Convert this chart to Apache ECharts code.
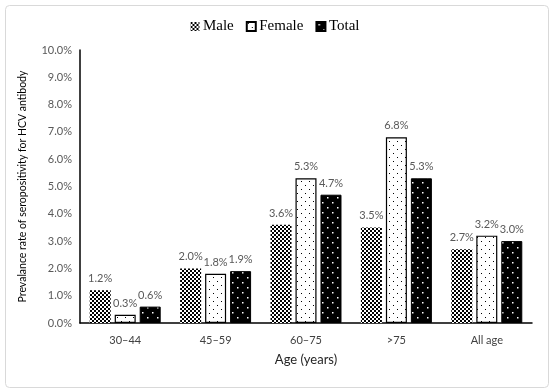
<!DOCTYPE html>
<html>
<head>
<meta charset="utf-8">
<script src="https://cdn.jsdelivr.net/npm/echarts@6/dist/echarts.min.js"></script>
<style>
html,body{margin:0;padding:0;background:#fff;}
#c{width:550px;height:389px;}
</style>
</head>
<body>
<div id="c"></div>
<script>
const categories = ['30\u201344', '45\u201359', '60\u201375', '>75', 'All age'];
const male = [1.2, 2.0, 3.6, 3.5, 2.7];
const female = [0.3, 1.8, 5.3, 6.8, 3.2];
const total = [0.6, 1.9, 4.7, 5.3, 3.0];
const yTicks = [0, 1, 2, 3, 4, 5, 6, 7, 8, 9, 10];

function makePattern(size, bg, fg, dots) {
  const c = document.createElement('canvas');
  c.width = size; c.height = size;
  const g = c.getContext('2d');
  g.fillStyle = bg; g.fillRect(0, 0, size, size);
  g.fillStyle = fg;
  dots.forEach(d => g.fillRect(d[0], d[1], d[2], d[3]));
  return c;
}
const malePat = makePattern(4, '#ffffff', '#000000', [[0,0,2,2],[2,2,2,2]]);
const femalePat = makePattern(8, '#ffffff', '#000000', [[1,1,1,1],[5,5,1,1]]);
const totalPat = makePattern(10, '#000000', '#ffffff', [[2,2,1.5,1.5],[7,7,1.5,1.5]]);

const labelStyle = {
  show: true, position: 'top', distance: 6,
  formatter: p => p.value.toFixed(1) + '%',
  fontFamily: 'Lato', fontSize: 11, color: '#595959'
};

const chart = echarts.init(document.getElementById('c'), null, {renderer: 'canvas'});
chart.setOption({
  animation: false,
  backgroundColor: '#ffffff',
  graphic: [{
    type: 'rect', left: 3, top: 3, z: -1,
    shape: {width: 543, height: 382, r: 4},
    style: {fill: 'none', stroke: '#d9d9d9', lineWidth: 1}
  }],
  legend: {
    top: 14, left: 'center', icon: 'rect',
    itemWidth: 9, itemHeight: 9, itemGap: 12,
    textStyle: {fontFamily: 'Liberation Serif', fontSize: 15, color: '#000', padding: [0,0,0,-1.5]},
    data: ['Male', 'Female', 'Total']
  },
  grid: {left: 80, right: 18, top: 50, bottom: 66},
  xAxis: {
    type: 'category', data: categories,
    axisLine: {lineStyle: {color: '#000', width: 1.5}},
    axisTick: {show: false},
    axisLabel: {fontFamily: 'Lato', fontSize: 11, color: '#404040', margin: 12},
    name: 'Age (years)', nameLocation: 'middle', nameGap: 30,
    nameTextStyle: {fontFamily: 'Lato', fontSize: 13, color: '#262626'}
  },
  yAxis: {
    type: 'value', min: 0, max: 10, interval: 1,
    axisLine: {show: true, lineStyle: {color: '#000', width: 1.5}},
    axisTick: {show: false},
    splitLine: {show: false},
    axisLabel: {
      fontFamily: 'Lato', fontSize: 11, color: '#595959', margin: 8,
      formatter: v => yTicks.includes(v) ? v.toFixed(1) + '%' : ''
    },
    name: 'Prevalance rate of seropositivity for HCV antibody',
    nameLocation: 'middle', nameGap: 52, nameRotate: 90,
    nameTextStyle: {fontFamily: 'Lato', fontSize: 10.5, color: '#000'}
  },
  series: [
    {
      name: 'Male', type: 'bar', data: male,
      barWidth: 21, barGap: '19%', barCategoryGap: '21%',
      itemStyle: {color: {image: malePat, repeat: 'repeat'}, borderColor: '#000', borderWidth: 0},
      label: labelStyle
    },
    {
      name: 'Female', type: 'bar', data: female,
      barWidth: 21, barGap: '19%',
      itemStyle: {color: {image: femalePat, repeat: 'repeat'}, borderColor: '#000', borderWidth: 1.2},
      label: labelStyle
    },
    {
      name: 'Total', type: 'bar', data: total,
      barWidth: 21, barGap: '19%',
      itemStyle: {color: {image: totalPat, repeat: 'repeat'}, borderColor: '#000', borderWidth: 1},
      label: labelStyle
    }
  ]
});
</script>
</body>
</html>
